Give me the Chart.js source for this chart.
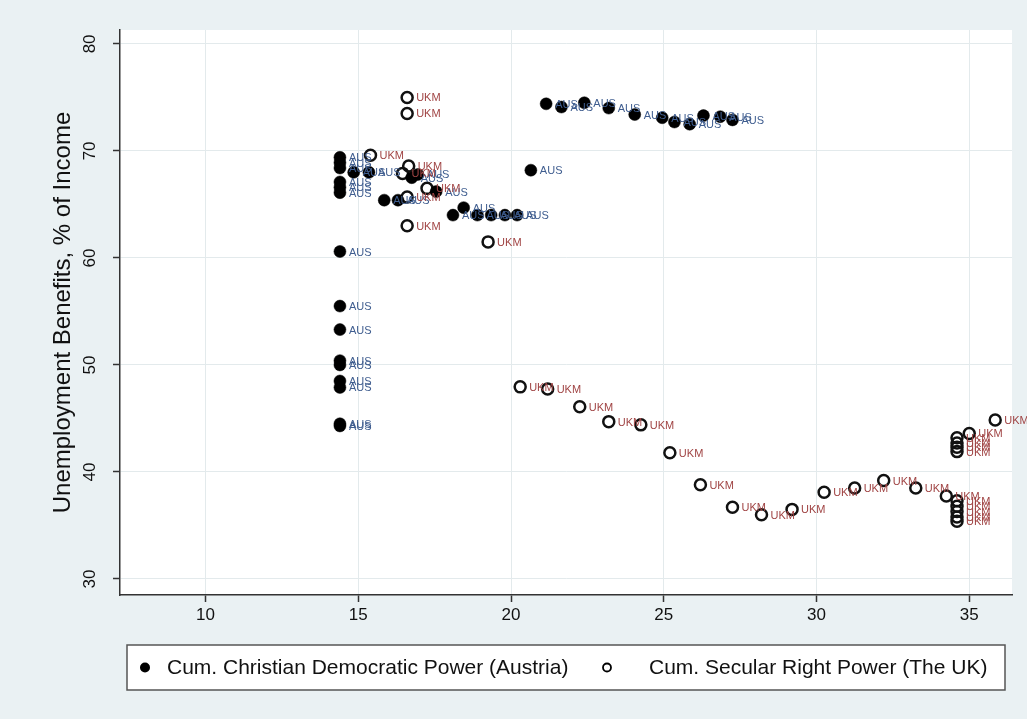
<!DOCTYPE html>
<html>
<head>
  <title>Unemployment Benefits</title>
  <script src="https://cdn.jsdelivr.net/npm/chart.js"></script>
  <style>
    html, body { margin: 0; padding: 0; background: #eaf1f3; }
    canvas { display: block; }
  </style>
</head>
<body>
  <canvas id="chart" width="1027" height="719"></canvas>

  <script>
    const xTicks = [10, 15, 20, 25, 30, 35];
    const yTicks = [30, 40, 50, 60, 70, 80];
    const seriesNames = ['Cum. Christian Democratic Power (Austria)', 'Cum. Secular Right Power (The UK)'];
    const seriesCodes = ['AUS', 'UKM'];

    const ausX = [14.4, 14.4, 14.4, 14.4, 14.4, 14.4, 14.4, 14.4, 14.4, 14.4, 14.4, 14.4, 14.4, 14.4, 14.4,
      14.85, 15.35, 15.85, 16.3, 16.75, 16.95, 17.55, 18.1, 18.45, 18.9, 19.35, 19.8, 20.2, 20.65,
      21.15, 21.65, 22.4, 23.2, 24.05, 24.95, 25.35, 25.85, 26.3, 26.85, 27.25];
    const ausY = [69.4, 68.9, 68.4, 67.1, 66.6, 66.1, 60.6, 55.5, 53.3, 50.4, 50.0, 48.5, 47.9, 44.5, 44.3,
      68.0, 68.0, 65.4, 65.4, 67.5, 67.8, 66.2, 64.0, 64.7, 64.0, 64.0, 64.0, 64.0, 68.2,
      74.4, 74.1, 74.5, 74.0, 73.4, 73.1, 72.7, 72.5, 73.3, 73.2, 72.9];

    const ukmX = [16.6, 16.6, 15.4, 16.45, 16.65, 17.25, 16.6, 16.6, 19.25,
      20.3, 21.2, 22.25, 23.2, 24.25, 25.2, 26.2, 27.25, 28.2, 29.2, 30.25, 31.25, 32.2, 33.25, 34.25,
      34.6, 34.6, 34.6, 34.6, 35.0, 35.85, 34.6, 34.6, 34.6, 34.6, 34.6];
    const ukmY = [75.0, 73.5, 69.6, 67.9, 68.6, 66.5, 65.7, 63.0, 61.5,
      47.95, 47.75, 46.1, 44.7, 44.4, 41.8, 38.8, 36.7, 36.0, 36.5, 38.1, 38.5, 39.2, 38.5, 37.75,
      43.2, 42.7, 42.3, 41.9, 43.6, 44.85, 37.3, 36.8, 36.3, 35.8, 35.4];

    const FONT = '"Liberation Sans", Arial, Helvetica, sans-serif';
    const labelColors = ['#3f5d8f', '#a04444'];

    const toPoints = (xs, ys) => xs.map((x, i) => ({ x, y: ys[i] }));

    // backgrounds: outer panel + white plot region
    const panels = {
      id: 'panels',
      beforeDraw(chart) {
        const { ctx, chartArea: a } = chart;
        ctx.save();
        ctx.fillStyle = '#eaf1f3';
        ctx.fillRect(0, 0, chart.width, chart.height);
        ctx.fillStyle = '#ffffff';
        ctx.fillRect(a.left, a.top, a.right - a.left, a.bottom - a.top);
        ctx.restore();
      }
    };

    // AUS / UKM marker labels at 3 o'clock
    const pointLabels = {
      id: 'pointLabels',
      afterDatasetsDraw(chart) {
        const ctx = chart.ctx;
        ctx.save();
        ctx.font = '11px ' + FONT;
        ctx.textAlign = 'left';
        ctx.textBaseline = 'middle';
        chart.data.datasets.forEach((ds, i) => {
          ctx.fillStyle = labelColors[i];
          chart.getDatasetMeta(i).data.forEach(pt => {
            ctx.fillText(seriesCodes[i], pt.x + 9, pt.y + 1);
          });
        });
        ctx.restore();
      }
    };

    // vertical y tick labels (Stata style, reading upward)
    const yLabels = {
      id: 'yLabels',
      afterDraw(chart) {
        const { ctx } = chart;
        const ys = chart.scales.y;
        ctx.save();
        ctx.font = '17px ' + FONT;
        ctx.fillStyle = '#111';
        ctx.textAlign = 'center';
        ctx.textBaseline = 'middle';
        ys.ticks.forEach(t => {
          ctx.save();
          ctx.translate(ys.right - 30, ys.getPixelForValue(t.value));
          ctx.rotate(-Math.PI / 2);
          ctx.fillText(String(t.value), 0, 0);
          ctx.restore();
        });
        ctx.restore();
      }
    };

    // boxed legend under the x axis
    const boxLegend = {
      id: 'boxLegend',
      afterDraw(chart) {
        const { ctx, chartArea: a } = chart;
        const top = chart.scales.x.bottom + 15;
        const left = a.left + 7;
        const w = a.right - a.left - 14;
        const h = 45;
        ctx.save();
        ctx.fillStyle = '#ffffff';
        ctx.fillRect(left, top, w, h);
        ctx.strokeStyle = '#555';
        ctx.lineWidth = 1.5;
        ctx.strokeRect(left, top, w, h);

        const cy = top + h / 2;
        const items = [[left + 18, left + 40, true], [left + 480, left + 522, false]];
        ctx.font = '21px ' + FONT;
        ctx.textAlign = 'left';
        ctx.textBaseline = 'middle';
        items.forEach(([mx, tx, filled], i) => {
          ctx.beginPath();
          ctx.arc(mx, cy, filled ? 5 : 4, 0, Math.PI * 2);
          if (filled) { ctx.fillStyle = '#000'; ctx.fill(); }
          else { ctx.strokeStyle = '#000'; ctx.lineWidth = 1.8; ctx.stroke(); }
          ctx.fillStyle = '#111';
          ctx.fillText(chart.data.datasets[i].label, tx, cy + 1);
        });
        ctx.restore();
      }
    };

    const gridOpts = { color: '#e3eaec', lineWidth: 1, tickColor: '#333', tickLength: 7, tickWidth: 1.5 };
    const borderOpts = { display: true, color: '#333', width: 1.5 };

    new Chart(document.getElementById('chart'), {
      type: 'scatter',
      data: {
        datasets: [
          {
            label: seriesNames[0],
            data: toPoints(ausX, ausY),
            pointRadius: 6,
            pointBackgroundColor: '#000',
            pointBorderColor: '#000',
            pointBorderWidth: 0.5
          },
          {
            label: seriesNames[1],
            data: toPoints(ukmX, ukmY),
            pointRadius: 5.5,
            pointBackgroundColor: 'rgba(0,0,0,0)',
            pointBorderColor: '#111',
            pointBorderWidth: 2.5
          }
        ]
      },
      options: {
        responsive: false,
        animation: false,
        layout: { padding: { top: 30, right: 15, bottom: 89, left: 45 } },
        plugins: {
          legend: { display: false },
          tooltip: { enabled: false }
        },
        scales: {
          x: {
            type: 'linear',
            min: 7.2,
            max: 36.4,
            afterBuildTicks: s => { s.ticks = xTicks.map(v => ({ value: v })); },
            afterFit: s => { s.height = 35; },
            grid: gridOpts,
            border: borderOpts,
            ticks: { font: { size: 17, family: FONT }, color: '#111', padding: 3, maxRotation: 0 }
          },
          y: {
            type: 'linear',
            min: 28.5,
            max: 81.3,
            afterBuildTicks: s => { s.ticks = yTicks.map(v => ({ value: v })); },
            afterFit: s => { s.width = 75; },
            grid: gridOpts,
            border: borderOpts,
            ticks: { display: false },
            title: {
              display: true,
              text: 'Unemployment Benefits, % of Income',
              font: { size: 24, family: FONT },
              color: '#111',
              padding: { top: 4, bottom: 0 }
            }
          }
        }
      },
      plugins: [panels, pointLabels, yLabels, boxLegend]
    });
  </script>
</body>
</html>
